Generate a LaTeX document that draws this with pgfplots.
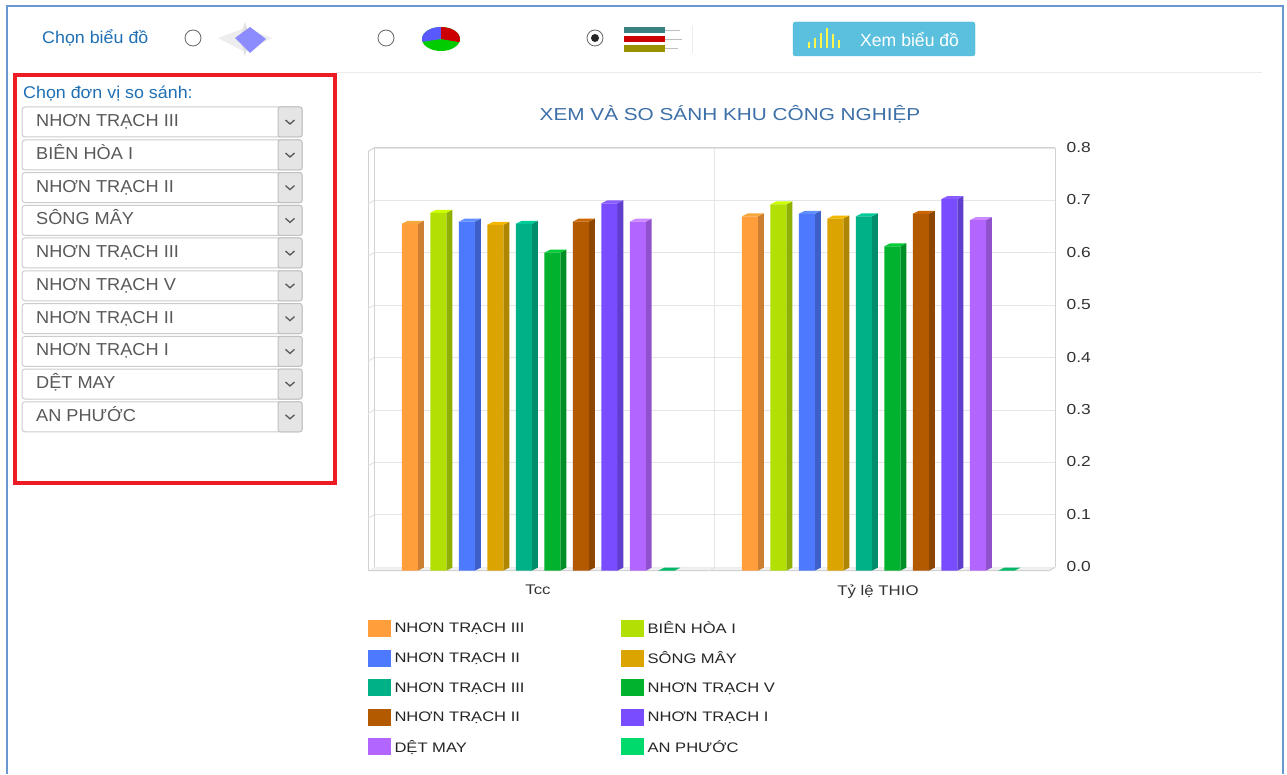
\documentclass[border=0pt]{standalone}
\usepackage{fontspec}
\setmainfont[FakeStretch=1.2]{Liberation Sans}
\newfontfamily\ui{Liberation Sans}
\newfontfamily\uiw[FakeStretch=1.05]{Liberation Sans}
\usepackage{pgfplots}
\pgfplotsset{compat=1.18}
\definecolor{c1}{HTML}{FF9E3B}\definecolor{c1s}{HTML}{CC7F33}\definecolor{c1t}{HTML}{F5A83C}
\definecolor{c2}{HTML}{B2E004}\definecolor{c2s}{HTML}{8FB000}\definecolor{c2t}{HTML}{CCFF00}
\definecolor{c3}{HTML}{4D79FF}\definecolor{c3s}{HTML}{3E5FC7}\definecolor{c3t}{HTML}{6090FF}
\definecolor{c4}{HTML}{DBA400}\definecolor{c4s}{HTML}{AF8600}\definecolor{c4t}{HTML}{F5B800}
\definecolor{c5}{HTML}{00B187}\definecolor{c5s}{HTML}{008E6C}\definecolor{c5t}{HTML}{00CC99}
\definecolor{c6}{HTML}{00B22D}\definecolor{c6s}{HTML}{008F24}\definecolor{c6t}{HTML}{00CC33}
\definecolor{c7}{HTML}{B35900}\definecolor{c7s}{HTML}{8C4600}\definecolor{c7t}{HTML}{CC6600}
\definecolor{c8}{HTML}{794DFF}\definecolor{c8s}{HTML}{603DCC}\definecolor{c8t}{HTML}{8A5CFF}
\definecolor{c9}{HTML}{B266FF}\definecolor{c9s}{HTML}{8F52CC}\definecolor{c9t}{HTML}{CC88FF}
\definecolor{c10}{HTML}{00D96C}\definecolor{c10s}{HTML}{00A050}\definecolor{c10t}{HTML}{00B868}
\definecolor{uiblue}{HTML}{1F6FB5}
\definecolor{frame}{HTML}{6A97CF}
\definecolor{wall}{HTML}{D2D2D2}
\definecolor{btn}{HTML}{5BC0DE}
\definecolor{btnb}{HTML}{46B8DA}
\newcommand\onebar[4]{% group, slot, value, colour
  \pgfmathsetmacro\xl{#1+(#2-4.5)*0.08382-0.02353}
  \pgfmathsetmacro\xr{\xl+0.04706}
  \pgfmathsetmacro\xrd{\xr+0.01765}
  \pgfmathsetmacro\xld{\xl+0.01765}
  \pgfmathsetmacro\vd{#3+0.00573}
  \addplot[fill=#4s,draw=none,forget plot] coordinates {(\xr,0)(\xrd,0.00573)(\xrd,\vd)(\xr,#3)} --cycle;
  \addplot[fill=#4t,draw=none,forget plot] coordinates {(\xl,#3)(\xld,\vd)(\xrd,\vd)(\xr,#3)} --cycle;
}
\newcommand\series[5]{% slot, tcc, thio, colour, name
  \onebar{0}{#1}{#2}{#4}
  \onebar{1}{#1}{#3}{#4}
  \addplot[ybar,fill=#4,draw=none,bar width=16pt,bar shift={(#1-4.5)*28.5pt},
    legend image code/.code={\fill[#4] (0pt,-8.5pt) rectangle (23pt,8.5pt);}]
    coordinates {(0,#2)(1,#3)};
  \addlegendentry{#5}
}
\newcommand\dropdown[2]{% y top, text
  \draw[line width=1pt,draw=black!20,fill=white,rounded corners=3pt] (22,#1) rectangle (302,#1+30);
  \draw[line width=1pt,draw=black!25,fill=black!10,rounded corners=2pt] (278,#1) rectangle (302,#1+30);
  \draw[line width=1.3pt,draw=black!65] (285.5,#1+13) -- (290,#1+17) -- (294.5,#1+13);
  \node[anchor=base west,inner sep=0pt,text=black!65,font=\uiw\fontsize{17.3}{20}\selectfont] at (36,#1+19.5) {#2};
}
\begin{document}
\begin{tikzpicture}
\begin{scope}[x=1pt,y=-1pt]
\fill[white] (0,0) rectangle (1287,774);
\draw[frame,line width=2pt] (7,774) -- (7,6) -- (1283,6) -- (1283,774);
\draw[black!8,line width=1pt] (337,73) -- (1262,73);
\node[anchor=base west,inner sep=0pt,text=uiblue,font=\uiw\fontsize{17}{18}\selectfont] at (42,44) {Chọn biểu đồ};
% radios
\draw[black!60,fill=white,line width=.8pt] (193,38) circle (8);
\draw[black!60,fill=white,line width=.8pt] (386,38) circle (8);
\draw[black!60,fill=white,line width=.8pt] (595,38) circle (8);
\fill[black!85] (595,38) circle (4);
% radar icon
\fill[black!7] (218,38) -- (245,28) -- (272,38) -- (245,52) -- cycle;
\fill[black!12] (245,22) -- (250,38) -- (245,56) -- (240,38) -- cycle;
\fill[blue!45!white] (235,38) -- (250,27) -- (266,39) -- (250,53) -- cycle;
% pie icon
\begin{scope}
\clip (441,39) ellipse (19 and 12);
\fill[green!80!black] (415,25) rectangle (470,55);
\fill[blue!65!white] (441,39) -- (415,43) -- (415,20) -- (441,20) -- cycle;
\fill[red!80!black] (441,39) -- (441,20) -- (470,20) -- (470,44) -- cycle;
\end{scope}
% bar icon
\fill[teal!55!gray] (624,27) rectangle (665,33);
\fill[red!80!black] (624,36) rectangle (665,42);
\fill[olive!90!yellow] (624,45) rectangle (665,52);
\draw[black!25] (665,30) -- (680,30) (665,39) -- (682,39) (665,48) -- (678,48);
\draw[black!8] (692,26) -- (692,53);
% button
\draw[fill=btn,draw=btnb,rounded corners=2.5pt] (793,22) rectangle (975,56);
\foreach \xx/\hh in {809/6,815/10,821/15,827/20,833/14,839/8}
  \draw[yellow!70!white,line width=1.6pt] (\xx,48) -- (\xx,48-\hh);
\node[anchor=base west,inner sep=0pt,text=white,font=\ui\fontsize{17.6}{18}\selectfont] at (860,47) {Xem biểu đồ};
% sidebar
\draw[line width=4pt,color={rgb,255:red,237;green,28;blue,36}] (15,75) rectangle (335,483);
\node[anchor=base west,inner sep=0pt,text=uiblue,font=\uiw\fontsize{17}{18}\selectfont] at (23,99) {Chọn đơn vị so sánh:};
\dropdown{107}{NHƠN TRẠCH III}
\dropdown{140}{BIÊN HÒA I}
\dropdown{172.6}{NHƠN TRẠCH II}
\dropdown{205.4}{SÔNG MÂY}
\dropdown{238}{NHƠN TRẠCH III}
\dropdown{270.8}{NHƠN TRẠCH V}
\dropdown{303.6}{NHƠN TRẠCH II}
\dropdown{336.4}{NHƠN TRẠCH I}
\dropdown{369}{DỆT MAY}
\dropdown{401.8}{AN PHƯỚC}
% title
\node[anchor=base,inner sep=0pt,text={rgb,255:red,61;green,111;blue,168},font=\fontsize{17.3}{19}\selectfont] at (730,121) {XEM VÀ SO SÁNH KHU CÔNG NGHIỆP};
\end{scope}

% back wall with the grid and the value axis
\begin{axis}[at={(374pt,-567.3pt)},anchor=south west,scale only axis,width=681pt,height=419.3pt,
  xmin=-0.5,xmax=1.5,ymin=0,ymax=0.8,
  xtick={0.5},xticklabels={},xmajorgrids,ymajorgrids,
  ytick={0,0.1,0.2,0.3,0.4,0.5,0.6,0.7,0.8},
  major grid style={black!10,line width=.9pt},
  axis line style={wall,line width=1pt},
  tick style={draw=none},
  axis y line*=right,axis x line*=top,
  /pgf/number format/assume math mode=true,
  /pgf/number format/fixed,/pgf/number format/fixed zerofill,/pgf/number format/precision=1,
  yticklabel style={anchor=west,inner sep=0pt,xshift=11.5pt,yshift=0.5pt,font=\fontsize{14.5}{17}\selectfont,text=black!80},
]
\end{axis}
\begin{scope}[x=1pt,y=-1pt]
\draw[wall,line width=1pt] (374,148) -- (374,567.3);
\draw[wall,line width=1pt] (368,151.5) -- (368,570.7);
\draw[wall,line width=1pt] (368,151.5) -- (374,148);
\fill[black!6] (368,570.7) -- (374,567.3) -- (1055,567.3) -- (1049,570.7) -- cycle;
\draw[wall,line width=1pt] (368,570.7) -- (1049,570.7) -- (1055,567.3);
\draw[black!10,line width=.9pt] (715,567.3) -- (709,570.7);
\foreach \yy in {200.4,252.8,305.2,357.7,410.1,462.5,514.9} \draw[black!12,line width=.9pt] (368,\yy+3.4) -- (374,\yy);
\end{scope}

% bars, front plane
\begin{axis}[at={(368pt,-570.7pt)},anchor=south west,scale only axis,width=680pt,height=419.2pt,
  xmin=-0.5,xmax=1.5,ymin=0,ymax=0.8,clip=false,
  axis line style={draw=none},
  ymajorticks=false,
  xtick={0,1},xticklabels={Tcc,Tỷ lệ THIO},
  tick style={draw=none},
  xticklabel style={font=\fontsize{14}{17}\selectfont,text=black!80,inner sep=0pt,yshift=-14pt},
  legend columns=2,
  legend cell align=left,
  legend style={draw=none,fill=none,at={(0,-0.117)},anchor=north west,inner sep=0pt,outer sep=0pt,
    font=\fontsize{13.8}{17}\selectfont,text=black!85,
    /tikz/every even column/.append style={column sep=93pt},
    nodes={inner xsep=3.5pt},
    row sep=12.3pt},
]
\series{0}{0.662}{0.676}{c1}{NHƠN TRẠCH III}
\series{1}{0.683}{0.699}{c2}{BIÊN HÒA I}
\series{2}{0.666}{0.681}{c3}{NHƠN TRẠCH II}
\series{3}{0.660}{0.672}{c4}{SÔNG MÂY}
\series{4}{0.662}{0.676}{c5}{NHƠN TRẠCH III}
\series{5}{0.607}{0.619}{c6}{NHƠN TRẠCH V}
\series{6}{0.666}{0.681}{c7}{NHƠN TRẠCH II}
\series{7}{0.701}{0.709}{c8}{NHƠN TRẠCH I}
\series{8}{0.666}{0.669}{c9}{DỆT MAY}
\series{9}{0}{0}{c10}{AN PHƯỚC}
\end{axis}
\end{tikzpicture}
\end{document}
